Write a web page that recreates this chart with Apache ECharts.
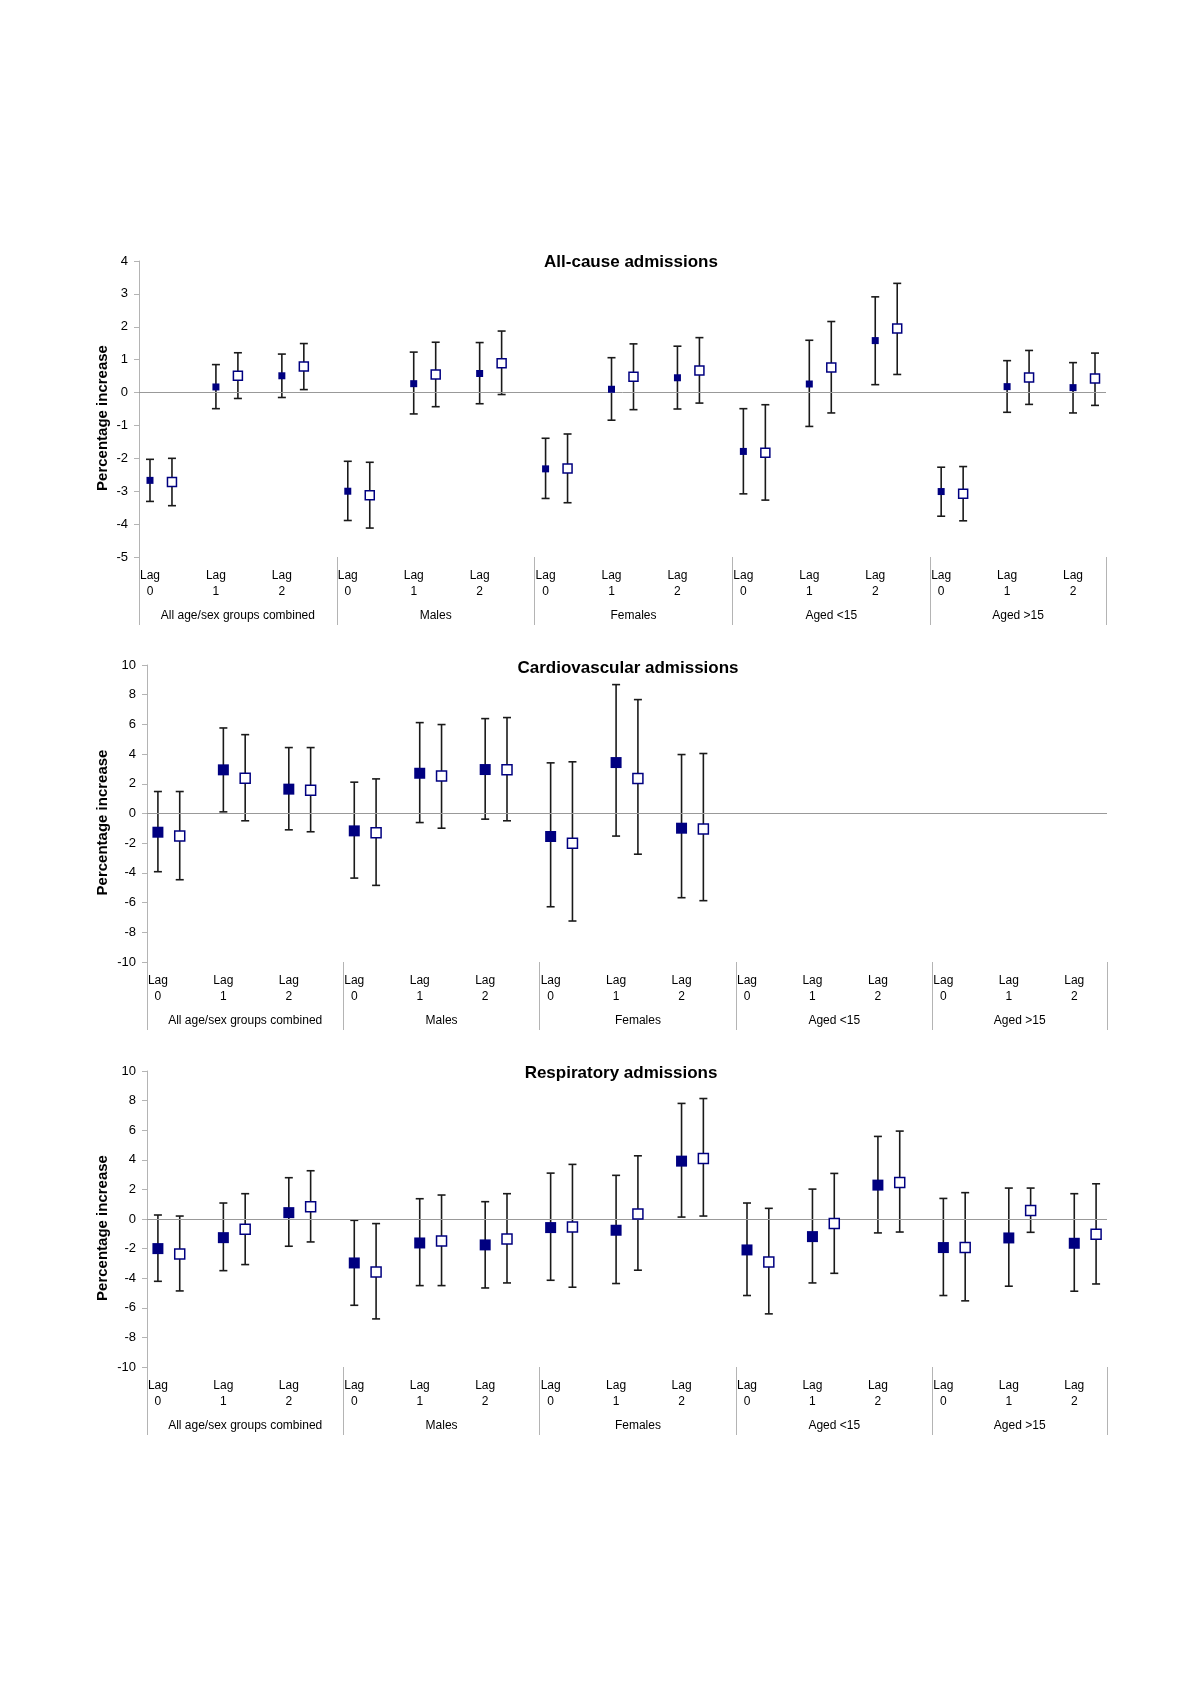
<!DOCTYPE html>
<html>
<head>
<meta charset="utf-8">
<script src="https://cdn.jsdelivr.net/npm/echarts@6/dist/echarts.min.js"></script>
<style>
html,body{margin:0;padding:0;background:#ffffff;}
#c{width:1200px;height:1698px;}
</style>
</head>
<body>
<div id="c"></div>
<script>
// ---------- labels ----------
const lagNumbers = ['0', '1', '2'];
const groupNames = ['All age/sex groups combined', 'Males', 'Females', 'Aged <15', 'Aged >15'];
const chartTitles = ['All-cause admissions', 'Cardiovascular admissions', 'Respiratory admissions'];
const yAxisName = 'Percentage increase';
const yMins = [-5, -10, -10];
const yMaxs = [4, 10, 10];
const yIntervals = [1, 2, 2];

// ---------- data (15 points: 5 groups x lag 0,1,2) ----------
// All-cause admissions
const allCauseFilled   = [-2.67, 0.17, 0.51, -3.00, 0.27, 0.58, -2.32, 0.10, 0.45, -1.79, 0.26, 1.58, -3.01, 0.18, 0.15];
const allCauseFilledLo = [-3.31, -0.49, -0.15, -3.89, -0.65, -0.34, -3.22, -0.84, -0.50, -3.08, -1.03, 0.24, -3.76, -0.60, -0.62];
const allCauseFilledHi = [-2.03, 0.85, 1.17, -2.09, 1.23, 1.52, -1.39, 1.06, 1.41, -0.49, 1.59, 2.91, -2.27, 0.97, 0.91];
const allCauseOpen     = [-2.72, 0.51, 0.79, -3.12, 0.55, 0.89, -2.31, 0.48, 0.67, -1.83, 0.76, 1.95, -3.08, 0.46, 0.43];
const allCauseOpenLo   = [-3.44, -0.18, 0.09, -4.12, -0.43, -0.06, -3.35, -0.52, -0.32, -3.27, -0.62, 0.55, -3.90, -0.36, -0.39];
const allCauseOpenHi   = [-2.00, 1.21, 1.49, -2.12, 1.53, 1.87, -1.26, 1.48, 1.67, -0.37, 2.16, 3.32, -2.25, 1.28, 1.20];

// Cardiovascular admissions (no estimates for age groups)
const cardioFilled   = [-1.26, 2.94, 1.64, -1.17, 2.71, 2.96, -1.55, 3.43, -0.99, null, null, null, null, null, null];
const cardioFilledLo = [-3.92, 0.11, -1.10, -4.35, -0.61, -0.38, -6.28, -1.52, -5.67, null, null, null, null, null, null];
const cardioFilledHi = [1.48, 5.76, 4.44, 2.11, 6.12, 6.39, 3.41, 8.68, 3.97, null, null, null, null, null, null];
const cardioOpen     = [-1.52, 2.38, 1.57, -1.30, 2.53, 2.94, -2.00, 2.35, -1.05, null, null, null, null, null, null];
const cardioOpenLo   = [-4.46, -0.49, -1.23, -4.84, -0.99, -0.49, -7.24, -2.74, -5.87, null, null, null, null, null, null];
const cardioOpenHi   = [1.48, 5.31, 4.44, 2.33, 5.99, 6.46, 3.48, 7.67, 4.04, null, null, null, null, null, null];

// Respiratory admissions
const respFilled   = [-2.00, -1.26, 0.43, -2.97, -1.62, -1.75, -0.58, -0.76, 3.91, -2.09, -1.19, 2.29, -1.93, -1.28, -1.64];
const respFilledLo = [-4.21, -3.49, -1.84, -5.83, -4.50, -4.66, -4.14, -4.36, 0.13, -5.17, -4.32, -0.94, -5.17, -4.54, -4.88];
const respFilledHi = [0.27, 1.08, 2.79, -0.09, 1.37, 1.17, 3.10, 2.95, 7.81, 1.08, 2.02, 5.58, 1.39, 2.09, 1.71];
const respOpen     = [-2.36, -0.70, 0.83, -3.58, -1.48, -1.35, -0.54, 0.34, 4.09, -2.90, -0.31, 2.47, -1.93, 0.58, -1.03];
const respOpenLo   = [-4.86, -3.08, -1.55, -6.75, -4.50, -4.32, -4.61, -3.46, 0.20, -6.41, -3.67, -0.88, -5.53, -0.90, -4.39];
const respOpenHi   = [0.20, 1.71, 3.26, -0.31, 1.62, 1.71, 3.69, 4.27, 8.14, 0.72, 3.08, 5.94, 1.78, 2.09, 2.38];

// ---------- build ----------
const panels = [
  {f: allCauseFilled, fl: allCauseFilledLo, fh: allCauseFilledHi, o: allCauseOpen, ol: allCauseOpenLo, oh: allCauseOpenHi,
   grid: {left: 139, top: 261, width: 967, height: 296}, fSize: 7, oSize: 9, titleX: 631, titleTop: 254, nameGap: 36},
  {f: cardioFilled, fl: cardioFilledLo, fh: cardioFilledHi, o: cardioOpen, ol: cardioOpenLo, oh: cardioOpenHi,
   grid: {left: 147, top: 665, width: 960, height: 297}, fSize: 11, oSize: 10, titleX: 628, titleTop: 660, nameGap: 44},
  {f: respFilled, fl: respFilledLo, fh: respFilledHi, o: respOpen, ol: respOpenLo, oh: respOpenHi,
   grid: {left: 147, top: 1071, width: 960, height: 296}, fSize: 11, oSize: 10, titleX: 621, titleTop: 1065, nameGap: 44}
];

const SLOTS_PER_LAG = 3;
const nPoints = 15;
const totalSlots = nPoints * SLOTS_PER_LAG - 1; // last empty slot omitted, as in the original
const lagPositions = [];
for (let i = 0; i < nPoints; i++) lagPositions.push(i * SLOTS_PER_LAG + 0.5);
const groupBounds = [];
for (let g = 0; g <= groupNames.length; g++) groupBounds.push(Math.min(g * 9, totalSlots));
const groupCenters = [];
for (let g = 0; g < groupNames.length; g++) groupCenters.push((groupBounds[g] + groupBounds[g + 1]) / 2);

const FONT = "'Liberation Sans', Arial, Helvetica, sans-serif";
const axisGray = '#b4b4b4';
const navy = '#000080';

function errRender(params, api) {
  const x = api.value(0), lo = api.value(1), hi = api.value(2);
  const pH = api.coord([x, hi]);
  const pL = api.coord([x, lo]);
  const w = 4;
  const st = {stroke: '#1a1a1a', lineWidth: 1.6};
  return {
    type: 'group',
    children: [
      {type: 'line', shape: {x1: pH[0], y1: pH[1], x2: pL[0], y2: pL[1]}, style: st},
      {type: 'line', shape: {x1: pH[0] - w, y1: pH[1], x2: pH[0] + w, y2: pH[1]}, style: st},
      {type: 'line', shape: {x1: pL[0] - w, y1: pL[1], x2: pL[0] + w, y2: pL[1]}, style: st}
    ]
  };
}

const option = {
  backgroundColor: '#ffffff',
  animation: false,
  title: [],
  grid: [],
  xAxis: [],
  yAxis: [],
  series: []
};

panels.forEach((p, g) => {
  option.title.push({
    text: chartTitles[g], left: p.titleX, top: p.titleTop, textAlign: 'center', padding: 0,
    textStyle: {fontFamily: FONT, fontSize: 17, fontWeight: 'bold', color: '#000'}
  });
  option.grid.push(Object.assign({containLabel: false}, p.grid));
  // lag axis (data axis) with group separators as long ticks
  option.xAxis.push({
    type: 'value', gridIndex: g, min: 0, max: totalSlots, position: 'bottom',
    axisLine: {show: false, onZero: false},
    splitLine: {show: false},
    axisTick: {show: true, customValues: groupBounds, length: 68, lineStyle: {color: axisGray, width: 1}},
    axisLabel: {
      customValues: lagPositions, margin: 11, fontFamily: FONT, fontSize: 12, lineHeight: 16, color: '#000',
      formatter: function (v) {
        const idx = Math.round((v - 0.5) / SLOTS_PER_LAG);
        return 'Lag\n' + lagNumbers[idx % 3];
      }
    }
  });
  // group axis
  option.xAxis.push({
    type: 'value', gridIndex: g, min: 0, max: totalSlots, position: 'bottom',
    axisLine: {show: false, onZero: false}, axisTick: {show: false}, splitLine: {show: false},
    axisLabel: {
      customValues: groupCenters, margin: 53, fontFamily: FONT, fontSize: 12, color: '#000',
      formatter: function (v) {
        const idx = groupCenters.findIndex(c => Math.abs(c - v) < 0.01);
        return idx >= 0 ? groupNames[idx] : '';
      }
    }
  });
  option.yAxis.push({
    type: 'value', gridIndex: g, min: yMins[g], max: yMaxs[g], interval: yIntervals[g],
    name: yAxisName, nameLocation: 'middle', nameGap: p.nameGap, nameRotate: 90,
    nameMoveOverlap: false,
    nameTextStyle: {fontFamily: FONT, fontSize: 15, fontWeight: 'bold', color: '#000',
                    verticalAlign: 'middle', align: 'center', padding: [0, 18, 0, 0]},
    axisLine: {show: true, onZero: false, lineStyle: {color: axisGray, width: 1}},
    axisTick: {show: true, length: 5, lineStyle: {color: axisGray}},
    splitLine: {show: false},
    axisLabel: {fontFamily: FONT, fontSize: 13, color: '#000', margin: 11}
  });

  const xi = g * 2;
  const filledPts = [], openPts = [], filledErr = [], openErr = [];
  for (let i = 0; i < nPoints; i++) {
    const xf = i * SLOTS_PER_LAG + 0.5;
    const xo = i * SLOTS_PER_LAG + 1.5;
    if (p.f[i] != null) { filledPts.push([xf, p.f[i]]); filledErr.push([xf, p.fl[i], p.fh[i]]); }
    if (p.o[i] != null) { openPts.push([xo, p.o[i]]); openErr.push([xo, p.ol[i], p.oh[i]]); }
  }
  option.series.push({
    type: 'custom', xAxisIndex: xi, yAxisIndex: g, renderItem: errRender, z: 2, silent: true,
    encode: {x: 0, y: [1, 2]}, data: filledErr,
    markLine: {
      silent: true, symbol: ['none', 'none'], label: {show: false},
      lineStyle: {color: '#999999', width: 1, type: 'solid'},
      data: [{yAxis: 0}]
    }
  });
  option.series.push({
    type: 'custom', xAxisIndex: xi, yAxisIndex: g, renderItem: errRender, z: 2, silent: true,
    encode: {x: 0, y: [1, 2]}, data: openErr
  });
  option.series.push({
    type: 'scatter', xAxisIndex: xi, yAxisIndex: g, z: 5, symbol: 'rect', symbolSize: p.fSize,
    itemStyle: {color: navy, opacity: 1}, data: filledPts
  });
  option.series.push({
    type: 'scatter', xAxisIndex: xi, yAxisIndex: g, z: 5, symbol: 'rect', symbolSize: p.oSize,
    itemStyle: {color: '#ffffff', borderColor: navy, borderWidth: 1.5, opacity: 1}, data: openPts
  });
});

const chart = echarts.init(document.getElementById('c'), null, {renderer: 'canvas'});
chart.setOption(option);
</script>
</body>
</html>
